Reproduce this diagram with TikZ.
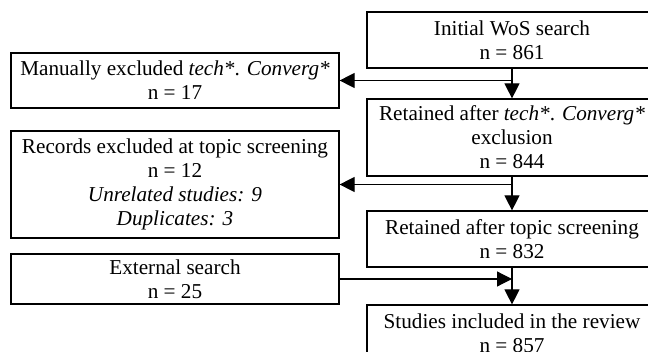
\documentclass[tikz,border=0pt]{standalone}
\usepackage{fontspec}
\setmainfont{Liberation Serif}
\usetikzlibrary{arrows.meta, calc}

\begin{document}
\begin{tikzpicture}[x=0.5pt, y=-0.5pt, >={Triangle[length=7.5pt, width=7.5pt]},
	line width=0.6pt, font=\fontsize{10.6pt}{12pt}\selectfont,
	box/.style={draw, align=center, inner sep=2pt, minimum height=#1},
	leftbox/.style={box=#1, minimum width=164pt},
	rightbox/.style={box=#1, minimum width=145pt}]
\useasboundingbox (0,0) rectangle (648,352);
%========================
% Right: main flow
%========================
\node[rightbox=28pt] (initial) at (512,40) {Initial WoS search\\ n = 861};
\node[rightbox=38.5pt] (tech) at (512,137.5) {Retained after \textit{tech*}. \textit{Converg*}\\ exclusion\\ n = 844};
\node[rightbox=28pt] (topic) at (512,239) {Retained after topic screening\\ n = 832};
\node[rightbox=28pt] (studies) at (512,333) {Studies included in the review\\ n = 857};

%========================
% Left: exclusions and extra records
%========================
\node[leftbox=27.5pt] (manual) at (175,80.5) {Manually excluded \textit{tech*}. \textit{Converg*}\\ n = 17};
\node[leftbox=53.5pt] (records) at (175,184.5) {Records excluded at topic screening\\ n = 12\\ \textit{Unrelated studies: 9}\\ \textit{Duplicates: 3}};
\node[leftbox=25pt] (external) at (175,279) {External search\\ n = 25};

% arrows down the main flow
\draw[->] (initial.south) -- (tech.north);
\draw[->] (tech.south) -- (topic.north);
\draw[->] (topic.south) -- (studies.north);
% branches
\draw[->] (initial.south |- manual.east) -- (manual.east);
\draw[->] (tech.south |- records.east) -- (records.east);
\draw[->] (external.east) -- (external.east -| topic.south);
\end{tikzpicture}
\end{document}
